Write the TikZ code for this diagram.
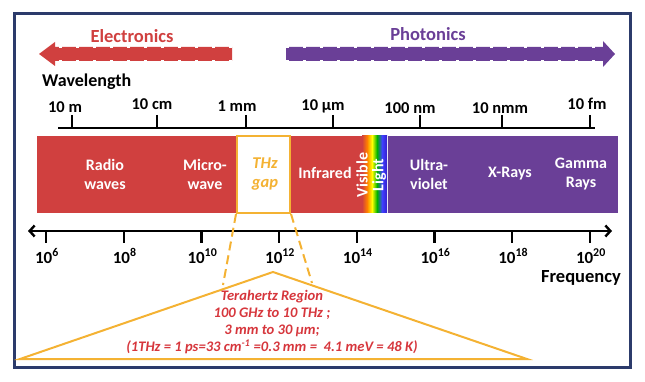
\documentclass[tikz,border=0pt]{standalone}
\usepackage{fontspec}
\setmainfont{Carlito}
\usetikzlibrary{arrows.meta}
\definecolor{emred}{HTML}{D0403F}
\definecolor{empurple}{HTML}{6A3F97}
\definecolor{thzorange}{HTML}{F4B233}
\definecolor{framenavy}{HTML}{2C3B6B}
\definecolor{regionred}{HTML}{D6363C}

\begin{document}
\begin{tikzpicture}[x=1pt,y=-1pt,
      every node/.style={inner sep=0pt,font=\bfseries},
      band/.style={align=center,text=white,
        font=\bfseries\fontsize{16}{19}\selectfont},
      wavelabel/.style={font=\bfseries\fontsize{16.5}{19}\selectfont},
      freqlabel/.style={anchor=base,font=\bfseries\fontsize{17}{20}\selectfont},
      axisline/.style={line width=2.4pt},
      zoomline/.style={thzorange,line width=2pt,dash pattern=on 9pt off 5pt},
      edgedash/.style={white,line width=1.4pt,dash pattern=on 3pt off 14pt}]
    \useasboundingbox (0,0) rectangle (645,382);
    \draw[framenavy,line width=3pt] (14,14) rectangle (630,367);

    % electronics and photonics
    \fill[emred] (39,54) -- (55,42) -- (55,47) -- (232,47) -- (232,61)
      -- (55,61) -- (55,66) -- cycle;
    \draw[edgedash] (232,47) -- (55,47) (232,61) -- (55,61);
    \fill[empurple] (615,54) -- (603,41) -- (603,47) -- (286,47) -- (286,61)
      -- (603,61) -- (603,67) -- cycle;
    \draw[edgedash] (286,47) -- (603,47) (286,61) -- (603,61);
    \node[text=emred,font=\bfseries\fontsize{18.5}{22}\selectfont] (elec) at (132,36) {Electronics};
    \node[text=empurple,font=\bfseries\fontsize{18.5}{22}\selectfont] (phot) at (428,34) {Photonics};

    % wavelength axis
    \node[anchor=west,font=\bfseries\fontsize{18}{22}\selectfont] (wl) at (42,82) {Wavelength};
    \draw[axisline] (58,128) -- (595,128);
    \foreach \x in {72,157,246,333,420,502,590}
      \draw[axisline] (\x,115) -- (\x,128);
    \node[wavelabel] (w1) at (65,107) {10 m};
    \node[wavelabel] (w2) at (152,104) {10 cm};
    \node[wavelabel] (w3) at (237,106) {1 mm};
    \node[wavelabel] (w4) at (323,106) {10 µm};
    \node[wavelabel] (w5) at (410,108) {100 nm};
    \node[wavelabel] (w6) at (500,108) {10 nmm};
    \node[wavelabel] (w7) at (587,104) {10 fm};

    % spectrum bar
    \fill[emred] (37,136) rectangle (362,213);
    \shade[left color=emred,right color=orange] (362,136) rectangle (367,213);
    \shade[left color=orange,right color=yellow] (367,136) rectangle (372,213);
    \shade[left color=yellow,right color=green!70!black] (372,136) rectangle (377,213);
    \shade[left color=green!70!black,right color=blue!75] (377,136) rectangle (382,213);
    \shade[left color=blue!75,right color=blue!50!empurple] (382,136) rectangle (387,213);
    \fill[empurple] (388,136) rectangle (618,213);
    \node[draw=thzorange,line width=2pt,fill=white,minimum width=53pt,
      minimum height=77pt] (thz) at (263.5,174.5) {};
    \node[align=center,text=thzorange,
      font=\bfseries\itshape\fontsize{16.5}{19}\selectfont] (thzt) at (265,174.5) {THz\\gap};
    \node[band] (radio) at (105,174.5) {Radio\\waves};
    \node[band] (micro) at (205,174.5) {Micro-\\wave};
    \node[band] (ir) at (325,173) {Infrared};
    \node[band,rotate=90] (vis) at (362,175) {Visible};
    \node[band,rotate=90] (light) at (379,175) {Light};
    \node[band] (uv) at (429,174.5) {Ultra-\\violet};
    \node[band] (xray) at (510,174) {X-Rays};
    \node[band] (gamma) at (581,174.5) {Gamma\\Rays};

    % frequency axis
    \draw[axisline,{Straight Barb[length=5pt,width=11pt]}-{Straight Barb[length=5pt,width=11pt]}]
      (28,231) -- (612,231);
    \foreach \e [count=\i from 0] in {6,8,10,12,14,16,18,20} {
      \draw[axisline] (46+77.7*\i,231) -- (46+77.7*\i,243);
      \node[freqlabel] (f\e) at (47+77.7*\i,263) {10\textsuperscript{\e}};
    }
    \node[font=\bfseries\fontsize{18.5}{22}\selectfont] (freq) at (581,278) {Frequency};

    % terahertz region
    \coordinate (zl) at (223,285);
    \coordinate (zr) at (312,283);
    \draw[zoomline] (thz.south west) -- (zl);
    \draw[zoomline] (thz.south east) -- (zr);
    \draw[thzorange,line width=2pt] (20,359) -- (273,272) -- (527,359) -- cycle;
    \node[align=center,text=regionred,
      font=\bfseries\itshape\fontsize{14.6}{17}\selectfont] (region) at (272,322)
      {Terahertz Region\\100 GHz to 10 THz ;\\3 mm to 30 µm;\\
       (1THz = 1 ps=33 cm\textsuperscript{-1} =0.3 mm =\ \ 4.1 meV = 48 K)};
\end{tikzpicture}
\end{document}
